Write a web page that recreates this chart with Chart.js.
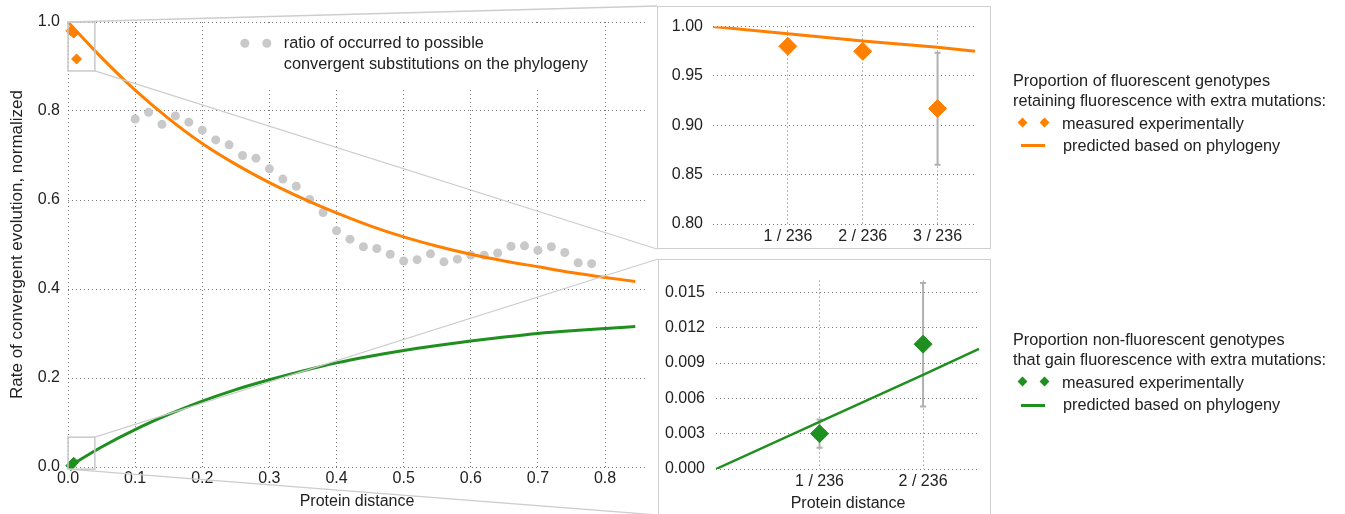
<!DOCTYPE html>
<html>
<head>
<meta charset="utf-8">
<script src="https://cdn.jsdelivr.net/npm/chart.js@4"></script>
<style>
  body { margin: 0; width: 1345px; height: 514px; overflow: hidden; background: #fff; position: relative;
         font-family: "Liberation Sans", Arial, sans-serif; color: #222; }
  canvas { position: absolute; }
  .box { position: absolute; border: 1px solid #cfcfcf; box-sizing: border-box; }
  .txt { position: absolute; font-size: 16.3px; line-height: 20px; white-space: nowrap; color: #222; }
  .dia { position: absolute; width: 7px; height: 7px; transform: rotate(45deg); }
  .bar { position: absolute; width: 24px; height: 3px; }
</style>
</head>
<body>
<canvas id="mainChart" width="652" height="514" style="left:0;top:0"></canvas>
<div class="box" id="topBox" style="left:657px;top:6px;width:334px;height:243px"></div>
<canvas id="topInset" width="332" height="241" style="left:658px;top:7px"></canvas>
<div class="box" id="botBox" style="left:658px;top:259px;width:333px;height:256px"></div>
<canvas id="botInset" width="331" height="254" style="left:659px;top:260px"></canvas>
<canvas id="overlay" width="1345" height="514" style="left:0;top:0;pointer-events:none"></canvas>

<div class="txt" style="left:1013px;top:70px">Proportion of fluorescent genotypes<br>retaining fluorescence with extra mutations:</div>
<div class="dia" style="left:1019px;top:119px;background:#ff7f00"></div>
<div class="dia" style="left:1041px;top:119px;background:#ff7f00"></div>
<div class="txt" style="left:1062px;top:113px">measured experimentally</div>
<div class="bar" style="left:1021px;top:144px;background:#ff7f00"></div>
<div class="txt" style="left:1063px;top:135px">predicted based on phylogeny</div>

<div class="txt" style="left:1013px;top:329px">Proportion non-fluorescent genotypes<br>that gain fluorescence with extra mutations:</div>
<div class="dia" style="left:1019px;top:378px;background:#1f8f1f"></div>
<div class="dia" style="left:1041px;top:378px;background:#1f8f1f"></div>
<div class="txt" style="left:1062px;top:372px">measured experimentally</div>
<div class="bar" style="left:1021px;top:404px;background:#1f8f1f"></div>
<div class="txt" style="left:1063px;top:394px">predicted based on phylogeny</div>

<script>
// main panel: protein distance vs normalized rate
const distances = [0.10, 0.12, 0.14, 0.16, 0.18, 0.20, 0.22, 0.24, 0.26, 0.28, 0.30, 0.32, 0.34, 0.36, 0.38, 0.40, 0.42, 0.44,
  0.46, 0.48, 0.50, 0.52, 0.54, 0.56, 0.58, 0.60, 0.62, 0.64, 0.66, 0.68, 0.70, 0.72, 0.74, 0.76, 0.78]
const convergentRatio = [0.782, 0.797, 0.770, 0.789, 0.775, 0.757, 0.735, 0.724, 0.700, 0.694, 0.670, 0.647, 0.631, 0.601,
  0.572, 0.531, 0.512, 0.495, 0.491, 0.478, 0.463, 0.466, 0.479, 0.461, 0.467, 0.476, 0.476, 0.481, 0.496, 0.497, 0.487,
  0.495, 0.482, 0.459, 0.457]
const curveDistances = [0, 0.05, 0.10, 0.15, 0.20, 0.25, 0.30, 0.35, 0.40, 0.45, 0.50, 0.55, 0.60, 0.65, 0.70, 0.75, 0.80, 0.845]
const retainPredicted = [1.0, 0.920, 0.847, 0.783, 0.727, 0.680, 0.639, 0.603, 0.571, 0.542, 0.517, 0.496, 0.478, 0.463,
  0.450, 0.437, 0.426, 0.417]
const gainPredicted = [0, 0.045, 0.084, 0.118, 0.148, 0.174, 0.196, 0.216, 0.234, 0.249, 0.262, 0.273, 0.283, 0.292,
  0.300, 0.306, 0.311, 0.316]
const mainXTicks = [0, 0.1, 0.2, 0.3, 0.4, 0.5, 0.6, 0.7, 0.8]
const mainYTicks = [0, 0.2, 0.4, 0.6, 0.8, 1.0]

// insets: extra mutations out of 236 sites
const extraMutations = [1, 2, 3]
const retainMeasured = [0.980, 0.975, 0.917]
const retainLow = [0.976, 0.971, 0.860]
const retainHigh = [0.984, 0.979, 0.9735]
const retainLineSteps = [0, 1, 2, 3, 3.5]
const retainLine = [1.0, 0.9927, 0.9855, 0.979, 0.975]
const retainYTicks = [0.80, 0.85, 0.90, 0.95, 1.00]

const gainSteps = [1, 2]
const gainMeasured = [0.0030, 0.0106]
const gainLow = [0.0018, 0.0053]
const gainHigh = [0.0042, 0.0158]
const gainLineSteps = [0, 1, 2, 2.54]
const gainLine = [0, 0.0040, 0.0080, 0.0102]
const gainYTicks = [0, 0.003, 0.006, 0.009, 0.012, 0.015]

// zoom windows drawn on the main panel [xmin, xmax, ymin, ymax]
const zoomTop = [0, 0.04, 0.89, 1.0]
const zoomBottom = [0, 0.04, -0.005, 0.067]

const ORANGE = "#ff7f00"
const GREEN = "#1f8f1f"
const DOTS = "#c9c9c9"
const FONT = '"Liberation Sans", Arial, sans-serif'

Chart.defaults.font.family = FONT
Chart.defaults.color = "#222"
Chart.defaults.animation = false

const pts = (xs, ys, k) => xs.map((x, i) => ({ x: k ? x / k : x, y: ys[i] }))
const fixTicks = (vals) => (s) => { s.ticks = vals.map((v) => ({ value: v })) }

const gridOpts = { color: "rgba(60,60,60,0.7)", lineWidth: 1, drawTicks: false }
const borderOpts = { display: false, dash: [1, 3] }

function errorBars(idx, low, high) {
  return {
    id: "errbars" + idx,
    beforeDatasetsDraw(chart) {
      const ctx = chart.ctx
      const meta = chart.getDatasetMeta(idx)
      const sy = chart.scales.y
      ctx.save()
      ctx.strokeStyle = "#b0b0b0"
      ctx.lineWidth = 2
      meta.data.forEach((p, i) => {
        const t = sy.getPixelForValue(high[i])
        const b = sy.getPixelForValue(low[i])
        ctx.beginPath()
        ctx.moveTo(p.x, t); ctx.lineTo(p.x, b)
        ctx.moveTo(p.x - 3, t); ctx.lineTo(p.x + 3, t)
        ctx.moveTo(p.x - 3, b); ctx.lineTo(p.x + 3, b)
        ctx.stroke()
      })
      ctx.restore()
    },
  }
}

const mainDecor = {
  id: "mainDecor",
  beforeDatasetsDraw(chart) {
    const { ctx, scales: { x, y } } = chart
    // legend on white
    const l = x.getPixelForValue(0.25), r = x.getPixelForValue(0.78)
    const t = y.getPixelForValue(0.995), b = y.getPixelForValue(0.853)
    ctx.save()
    ctx.fillStyle = "#fff"
    ctx.fillRect(l, t, r - l, b - t)
    ctx.fillStyle = DOTS
    ;[l + 9, l + 31].forEach((cx) => { ctx.beginPath(); ctx.arc(cx, t + 19, 4.5, 0, Math.PI * 2); ctx.fill() })
    ctx.fillStyle = "#222"
    ctx.font = "16.3px " + FONT
    ctx.textBaseline = "middle"
    ctx.fillText("ratio of occurred to possible", l + 48, t + 19)
    ctx.fillText("convergent substitutions on the phylogeny", l + 48, t + 40)
    ctx.restore()
  },
  afterDraw(chart) {
    const { ctx, scales: { x, y } } = chart
    ctx.save()
    ctx.strokeStyle = "#c8c8c8"
    ctx.lineWidth = 1.5
    ;[zoomTop, zoomBottom].forEach((z) => {
      const l = x.getPixelForValue(z[0]), r = x.getPixelForValue(z[1])
      const t = y.getPixelForValue(z[3]), b = y.getPixelForValue(z[2])
      ctx.strokeRect(l, t, r - l, b - t)
    })
    ctx.restore()
  },
}

const mainChart = new Chart(document.getElementById("mainChart"), {
  type: "scatter",
  data: {
    datasets: [
      { data: pts(extraMutations, retainMeasured, 236), pointStyle: "rectRot", pointRadius: 5,
        backgroundColor: ORANGE, borderColor: ORANGE, clip: false },
      { data: pts(gainSteps, gainMeasured, 236), pointStyle: "rectRot", pointRadius: 5,
        backgroundColor: GREEN, borderColor: GREEN, clip: false },
      { data: pts(curveDistances, retainPredicted), showLine: true, pointRadius: 0, borderColor: ORANGE,
        borderWidth: 3, cubicInterpolationMode: "monotone", clip: false },
      { data: pts(curveDistances, gainPredicted), showLine: true, pointRadius: 0, borderColor: GREEN,
        borderWidth: 3, cubicInterpolationMode: "monotone", clip: false },
      { data: pts(distances, convergentRatio), pointRadius: 4.5, backgroundColor: DOTS, borderWidth: 0 },
    ],
  },
  options: {
    responsive: false,
    layout: { padding: { top: 22, right: 2, left: 0, bottom: 0 } },
    plugins: { legend: { display: false }, tooltip: { enabled: false } },
    scales: {
      x: {
        type: "linear", min: 0, max: 0.861,
        afterBuildTicks: fixTicks(mainXTicks),
        afterFit: (s) => { s.height = 47 },
        grid: gridOpts, border: borderOpts,
        ticks: { font: { size: 16 }, padding: 2, callback: (v) => v.toFixed(1) },
        title: { display: true, text: "Protein distance", font: { size: 16 }, padding: { bottom: 3 } },
      },
      y: {
        min: 0, max: 1,
        afterBuildTicks: fixTicks(mainYTicks),
        afterFit: (s) => { s.width = 68 },
        grid: gridOpts, border: borderOpts,
        ticks: { font: { size: 16 }, padding: 8, callback: (v) => v.toFixed(1) },
        title: { display: true, text: "Rate of convergent evolution, normalized", font: { size: 17 },
          padding: { top: 7 } },
      },
    },
  },
  plugins: [mainDecor],
})

const topInset = new Chart(document.getElementById("topInset"), {
  type: "scatter",
  data: {
    datasets: [
      { data: pts(extraMutations, retainMeasured), pointStyle: "rectRot", pointRadius: 9,
        backgroundColor: ORANGE, borderColor: ORANGE, clip: false },
      { data: pts(retainLineSteps, retainLine), showLine: true, pointRadius: 0, borderColor: ORANGE, borderWidth: 3 },
    ],
  },
  options: {
    responsive: false,
    layout: { padding: { top: 16, right: 15, left: 0, bottom: 0 } },
    plugins: { legend: { display: false }, tooltip: { enabled: false } },
    scales: {
      x: {
        type: "linear", min: 0, max: 3.5,
        afterBuildTicks: fixTicks(extraMutations),
        afterFit: (s) => { s.height = 24 },
        grid: gridOpts, border: borderOpts,
        ticks: { font: { size: 16 }, padding: 3, callback: (v) => v + " / 236" },
      },
      y: {
        min: 0.8, max: 1.0,
        afterBuildTicks: fixTicks(retainYTicks),
        afterFit: (s) => { s.width = 55 },
        grid: gridOpts, border: borderOpts,
        ticks: { font: { size: 16 }, padding: 10, callback: (v) => v.toFixed(2) },
      },
    },
  },
  plugins: [errorBars(0, retainLow, retainHigh)],
})

const botInset = new Chart(document.getElementById("botInset"), {
  type: "scatter",
  data: {
    datasets: [
      { data: pts(gainSteps, gainMeasured), pointStyle: "rectRot", pointRadius: 9,
        backgroundColor: GREEN, borderColor: GREEN, clip: false },
      { data: pts(gainLineSteps, gainLine), showLine: true, pointRadius: 0, borderColor: GREEN, borderWidth: 2.5 },
    ],
  },
  options: {
    responsive: false,
    layout: { padding: { top: 7, right: 9, left: 0, bottom: 0 } },
    plugins: { legend: { display: false }, tooltip: { enabled: false } },
    scales: {
      x: {
        type: "linear", min: 0, max: 2.55,
        afterBuildTicks: fixTicks(gainSteps),
        afterFit: (s) => { s.height = 45 },
        grid: gridOpts, border: borderOpts,
        ticks: { font: { size: 16 }, padding: 3, callback: (v) => v + " / 236" },
        title: { display: true, text: "Protein distance", font: { size: 16 }, padding: { bottom: 1 } },
      },
      y: {
        min: 0, max: 0.016,
        afterBuildTicks: fixTicks(gainYTicks),
        afterFit: (s) => { s.width = 57 },
        grid: gridOpts, border: borderOpts,
        ticks: { font: { size: 16 }, padding: 11, callback: (v) => v.toFixed(3) },
      },
    },
  },
  plugins: [errorBars(0, gainLow, gainHigh)],
})

// connector lines from the zoom windows to the inset boxes
function drawConnectors() {
  const ctx = document.getElementById("overlay").getContext("2d")
  const { x, y } = mainChart.scales
  const box = (id) => document.getElementById(id).getBoundingClientRect()
  const tb = box("topBox"), bb = box("botBox")
  const segs = [
    [x.getPixelForValue(zoomTop[0]), y.getPixelForValue(zoomTop[3]), tb.left, tb.top],
    [x.getPixelForValue(zoomTop[1]), y.getPixelForValue(zoomTop[2]), tb.left, tb.bottom],
    [x.getPixelForValue(zoomBottom[1]), y.getPixelForValue(zoomBottom[3]), bb.left, bb.top],
    [x.getPixelForValue(zoomBottom[0]), y.getPixelForValue(zoomBottom[2]), bb.left, bb.bottom],
  ]
  ctx.strokeStyle = "#cdcdcd"
  ctx.lineWidth = 1.3
  segs.forEach((s) => { ctx.beginPath(); ctx.moveTo(s[0], s[1]); ctx.lineTo(s[2], s[3]); ctx.stroke() })
}
drawConnectors()
</script>
</body>
</html>
